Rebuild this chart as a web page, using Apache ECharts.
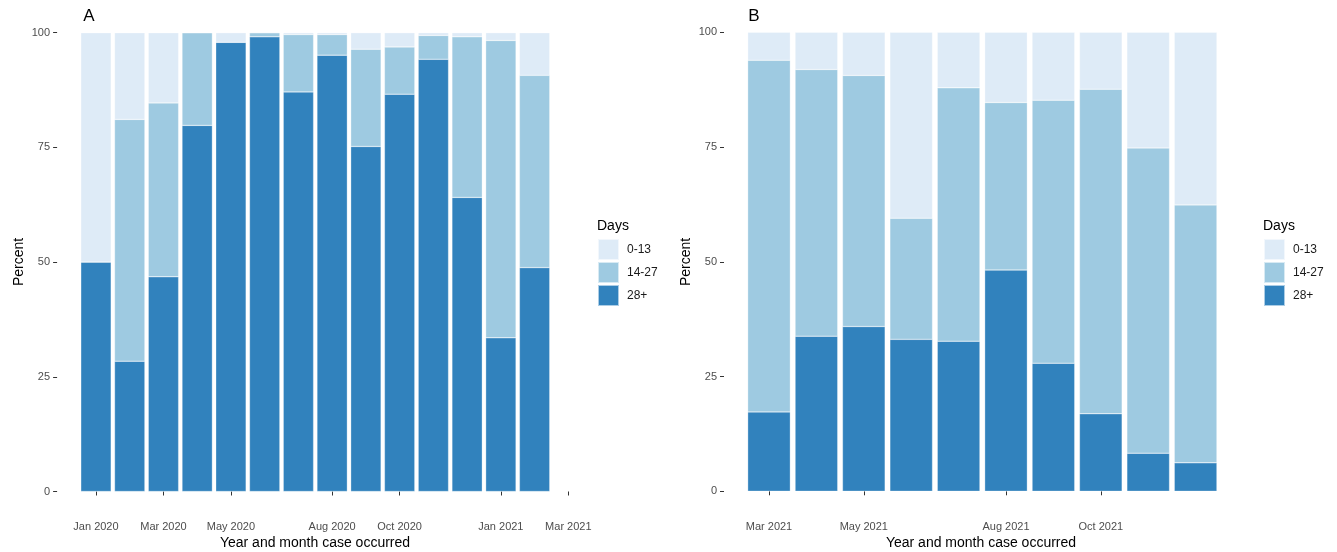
<!DOCTYPE html>
<html>
<head>
<meta charset="utf-8">
<script src="https://cdn.jsdelivr.net/npm/echarts@6/dist/echarts.min.js"></script>
<style>html,body{margin:0;padding:0;background:#fff}#c{width:1337px;height:552px}</style>
</head>
<body>
<div id="c"></div>
<script>
// ---- Data ----
const catsA = ['Jan 2020','Feb 2020','Mar 2020','Apr 2020','May 2020','Jun 2020','Jul 2020','Aug 2020','Sep 2020','Oct 2020','Nov 2020','Dec 2020','Jan 2021','Feb 2021','Mar 2021'];
const ticksA = ['Jan 2020','Mar 2020','May 2020','Aug 2020','Oct 2020','Jan 2021','Mar 2021'];
const a28 = [50.0, 28.4, 46.8, 79.8, 97.9, 99.1, 87.1, 95.1, 75.2, 86.6, 94.2, 64.1, 33.5, 48.8, null];
const a14 = [0.0, 52.7, 37.9, 20.2, 0.0, 0.9, 12.5, 4.5, 21.2, 10.3, 5.2, 35.0, 64.8, 41.9, null];
const a0  = [50.0, 18.9, 15.3, 0.0, 2.1, 0.0, 0.4, 0.4, 3.6, 3.1, 0.6, 0.9, 1.7, 9.3, null];

const catsB = ['Mar 2021','Apr 2021','May 2021','Jun 2021','Jul 2021','Aug 2021','Sep 2021','Oct 2021','Nov 2021','Dec 2021'];
const ticksB = ['Mar 2021','May 2021','Aug 2021','Oct 2021'];
const b28 = [17.3, 33.8, 35.9, 33.1, 32.7, 48.2, 27.9, 16.9, 8.3, 6.2];
const b14 = [76.6, 58.1, 54.7, 26.4, 55.2, 36.5, 57.3, 70.7, 66.5, 56.2];
const b0  = [6.1, 8.1, 9.4, 40.5, 12.1, 15.3, 14.8, 12.4, 25.2, 37.6];

const yTicks = [0, 25, 50, 75, 100];
const legendNames = ['0-13', '14-27', '28+'];
const colors = {'0-13': '#DEEBF7', '14-27': '#9ECAE1', '28+': '#3182BD'};

// ---- Chart ----
const FONT = "'Liberation Sans', Arial, sans-serif";
const chart = echarts.init(document.getElementById('c'), null, {renderer: 'canvas'});

function xAxisFor(idx, cats, ticks) {
  const show = (i, v) => ticks.indexOf(cats[i]) >= 0;
  return {
    type: 'category', gridIndex: idx, data: cats, offset: 23,
    axisLine: {show: false},
    axisTick: {show: true, alignWithLabel: true, length: 4, interval: show, lineStyle: {color: '#333333'}},
    axisLabel: {interval: show, margin: 7, color: '#4D4D4D', fontSize: 11, fontFamily: FONT},
    splitLine: {show: false}
  };
}
function yAxisFor(idx, off) {
  return {
    type: 'value', gridIndex: idx, min: 0, max: 100, interval: 25, offset: off,
    axisLine: {show: false},
    axisTick: {show: true, length: 4, lineStyle: {color: '#333333'}},
    axisLabel: {margin: 7, color: '#4D4D4D', fontSize: 11, fontFamily: FONT,
      formatter: v => (yTicks.indexOf(v) >= 0 ? String(v) : '')},
    splitLine: {show: false}
  };
}
function barSeries(name, data, idx) {
  return {
    name: name, type: 'bar', stack: 'p' + idx, xAxisIndex: idx, yAxisIndex: idx,
    data: data, barCategoryGap: '10%',
    itemStyle: {color: colors[name], borderColor: 'rgba(255,255,255,0.6)', borderWidth: 0.5},
    emphasis: {disabled: true}
  };
}
function legendFor(left) {
  return {
    orient: 'vertical', left: left, top: 238, padding: 0, data: legendNames,
    icon: 'rect', itemWidth: 21, itemHeight: 21, itemGap: 0,
    selectedMode: false,
    textStyle: {color: '#1A1A1A', fontSize: 12, fontFamily: FONT, padding: [0, 0, 0, 3]}
  };
}
function txt(x, y, text, size, extra) {
  return Object.assign({
    type: 'text', x: x, y: y,
    style: Object.assign({text: text, fill: '#000000', fontSize: size, fontFamily: FONT,
      textAlign: 'center', textVerticalAlign: 'middle'}, (extra && extra.style) || {})
  }, extra && extra.rotation !== undefined ? {rotation: extra.rotation} : {});
}

chart.setOption({
  animation: false,
  backgroundColor: '#ffffff',
  grid: [
    {left: 79.1, top: 32.7, width: 506.1, height: 458.8},
    {left: 745.3, top: 32.3, width: 474, height: 459}
  ],
  xAxis: [xAxisFor(0, catsA, ticksA), xAxisFor(1, catsB, ticksB)],
  yAxis: [yAxisFor(0, 22), yAxisFor(1, 21.3)],
  legend: [legendFor(597), legendFor(1263)],
  series: [
    barSeries('28+', a28, 0), barSeries('14-27', a14, 0), barSeries('0-13', a0, 0),
    barSeries('28+', b28, 1), barSeries('14-27', b14, 1), barSeries('0-13', b0, 1)
  ],
  graphic: [
    txt(89, 16, 'A', 17),
    txt(754, 16, 'B', 17),
    txt(315, 543, 'Year and month case occurred', 14),
    txt(981, 543, 'Year and month case occurred', 14),
    txt(19, 262, 'Percent', 14, {rotation: Math.PI / 2}),
    txt(686, 262, 'Percent', 14, {rotation: Math.PI / 2}),
    txt(597, 226, 'Days', 14, {style: {textAlign: 'left'}}),
    txt(1263, 226, 'Days', 14, {style: {textAlign: 'left'}})
  ]
});
</script>
</body>
</html>
